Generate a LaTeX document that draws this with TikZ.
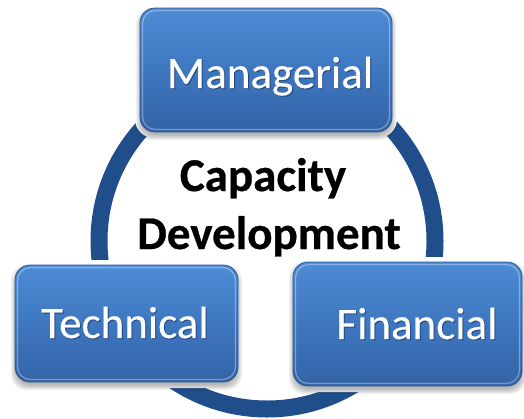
\documentclass[tikz,border=0pt]{standalone}
\usepackage{fontspec}
\setmainfont{Carlito}
\newfontfamily\heavyfont[FakeBold=0.6]{Carlito Bold}
\newfontfamily\labelfont[FakeBold=0.3]{Carlito}
\definecolor{ringblue}{HTML}{1F4E8B}
\definecolor{boxtop}{HTML}{4D8BD4}
\definecolor{boxmid}{HTML}{3E77C0}
\definecolor{boxbot}{HTML}{3363A6}
\definecolor{boxedge}{HTML}{2B5796}
\definecolor{txtshadow}{HTML}{1A3A70}
\tikzset{
  ringline/.style={draw=ringblue, line width=17pt},
  bluebox/.style={rectangle, rounded corners=15pt, top color=boxtop, bottom color=boxbot, middle color=boxmid, draw=boxedge, line width=0.8pt, inner sep=0pt},
  boxlabel/.style={anchor=base, text=white, font=\labelfont\fontsize{45}{45}\selectfont, inner sep=0pt},
  boxlabelshadow/.style={anchor=base, text=txtshadow, opacity=0.7, font=\labelfont\fontsize{45}{45}\selectfont, inner sep=0pt},
  centerlabel/.style={anchor=base, text=black, font=\heavyfont\fontsize{47}{47}\selectfont, inner sep=0pt}
}
\newcommand{\capbox}[5]{%
  % #1 name, #2 x1, #3 y1, #4 x2, #5 y2
  \fill[white, rounded corners=19pt] (#2-5,#3-5) rectangle (#4+5,#5+6);
  \foreach \s in {0,1,2,3,4,5}{
    \fill[black, opacity=0.05, rounded corners=15pt] (#2-\s+1,#3+5-\s) rectangle (#4+\s-1,#5+3+\s);
  }
  \node[bluebox, minimum width=#4-#2, minimum height=#5-#3] (#1) at ({(#2+#4)/2},{(#3+#5)/2}) {};
  \draw[white, opacity=0.35, line width=1.2pt, rounded corners=13pt] (#2+2.5,#3+2.5) rectangle (#4-2.5,#5-2.5);
}
\begin{document}
\begin{tikzpicture}[x=1pt,y=-1pt]
\useasboundingbox (0,0) rectangle (524,418);
\fill[white] (0,0) rectangle (524,418);
\draw[ringline] (267,241) circle[radius=168];
\capbox{man}{140}{8}{392}{132}
\capbox{tec}{15}{265}{238}{382}
\capbox{fin}{293}{262}{522}{386}
\node[boxlabelshadow] (manshadow) at (271,89) {Managerial};
\node[boxlabel] (manlabel) at (270,88) {Managerial};
\node[boxlabelshadow] (tecshadow) at (126,339) {Technical};
\node[boxlabel] (teclabel) at (125,338) {Technical};
\node[boxlabelshadow] (finshadow) at (418,340) {Financial};
\node[boxlabel] (finlabel) at (417,339) {Financial};
\node[centerlabel] (cap) at (263,191) {Capacity};
\node[centerlabel] (dev) at (269,249) {Development};
\end{tikzpicture}
\end{document}
